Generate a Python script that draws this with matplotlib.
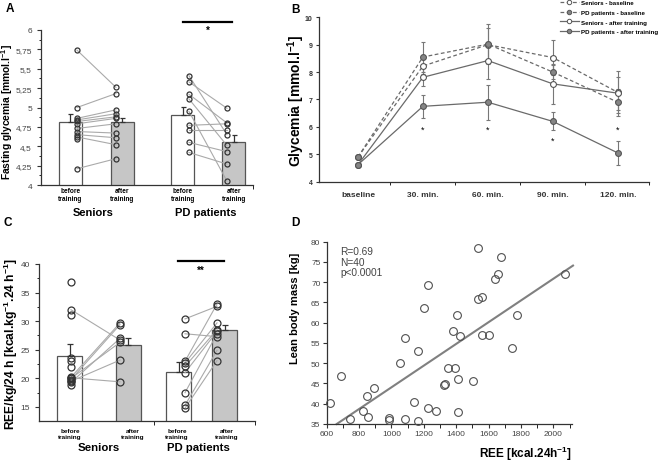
import numpy as np
import matplotlib
matplotlib.use('Agg')
import matplotlib.pyplot as plt
from matplotlib.lines import Line2D

plt.rcParams['font.family'] = ['Liberation Sans', 'DejaVu Sans']
plt.rcParams['mathtext.fontset'] = 'custom'
plt.rcParams['mathtext.rm'] = 'Liberation Sans'
plt.rcParams['mathtext.bf'] = 'Liberation Sans:bold'
plt.rcParams['mathtext.it'] = 'Liberation Sans:italic'

# ---------------------------------------------------------------------------- #
#                                     DATA                                     #
# ---------------------------------------------------------------------------- #
group_names = ['Seniors', 'PD patients']
cond_names = ['before\ntraining', 'after\ntraining']

# ----------------------- A: fasting glycemia [mmol/l] ----------------------- #
glyc_means = [4.81, 4.81, 4.90, 4.55]
glyc_sem = [0.10, 0.05, 0.11, 0.09]
sen_glyc_before = [5.74, 5.00, 4.86, 4.84, 4.82, 4.79, 4.73, 4.69, 4.65, 4.62, 4.21]
sen_glyc_after = [5.26, 5.18, 4.97, 4.92, 4.88, 4.86, 4.79, 4.67, 4.61, 4.52, 4.34]
sen_glyc_single = [4.60]
pd_glyc_before = [5.41, 5.33, 5.17, 5.11, 4.95, 4.77, 4.71, 4.55, 4.42]
pd_glyc_after = [4.65, 4.99, 4.80, 4.51, 4.05, 4.79, 4.71, 4.43, 4.27]
glyc_ticks = [4, 4.25, 4.5, 4.75, 5, 5.25, 5.5, 5.75, 6]
glyc_ticklabels = ['4', '4,25', '4,5', '4,75', '5', '5,25', '5,5', '5,75', '6']

# --------------------------- B: OGTT glycemia ------------------------------- #
ogtt_times = ['baseline', '30. min.', '60. min.', '90. min.', '120. min.']
sen_base = [4.90, 8.22, 9.00, 8.53, 7.26]
sen_base_err = [0, 0.30, 0.60, 0.65, 0.77]
pd_base = [4.90, 8.55, 9.02, 8.00, 6.90]
pd_base_err = [0, 0.56, 0.72, 0.25, 0.50]
sen_after = [4.62, 7.81, 8.42, 7.57, 7.23]
sen_after_err = [0, 0.33, 0.68, 0.73, 0.60]
pd_after = [4.62, 6.75, 6.90, 6.20, 5.05]
pd_after_err = [0, 0.43, 0.64, 0.33, 0.45]
ogtt_star_y = [None, 5.92, 5.92, 5.50, 5.90]
ogtt_labels = ['Seniors - baseline', 'PD patients - baseline',
               'Seniors - after training', 'PD patients - after training']

# ------------------------------ C: REE per kg ------------------------------- #
ree_means = [23.9, 25.8, 21.2, 28.5]
ree_sem = [2.1, 1.3, 1.7, 0.9]
sen_ree_before = [32.0, 20.2, 19.8, 19.3, 20.0, 19.5, 20.1]
sen_ree_after = [26.7, 29.7, 29.4, 27.0, 26.3, 23.2, 19.4]
sen_ree_single = [36.8, 31.0, 23.6, 23.0, 22.0, 18.8]
pd_ree_before = [30.4, 27.8, 23.0, 22.7, 22.1, 21.0, 17.5, 15.3, 14.8]
pd_ree_after = [32.6, 27.3, 33.0, 29.7, 28.5, 28.2, 27.8, 24.9, 23.1]

# ------------------------- D: REE vs lean body mass ------------------------- #
ree_total = [619, 691, 744, 821, 848, 852, 889, 986, 986, 1054,
             1083, 1085, 1162, 1162, 1137, 1203, 1224, 1224, 1275, 1326,
             1328, 1347, 1393, 1413, 1506, 1413, 1378, 1425, 1405, 1533,
             1677, 1657, 1642, 1537, 1560, 1560, 1605, 1778, 1744, 2069]
lean_mass = [40.2, 46.8, 36.2, 38.1, 41.8, 36.8, 43.8, 36.5, 36.0, 50.1,
             56.2, 36.2, 53.0, 35.8, 40.5, 63.6, 69.3, 38.9, 38.3, 44.6,
             44.8, 48.7, 48.7, 46.1, 45.5, 38.0, 57.9, 56.8, 61.8, 78.4,
             76.2, 72.1, 70.8, 65.9, 66.3, 57.0, 57.0, 61.8, 53.8, 72.0]
fit_ree = [662, 2121]
fit_lbm = [35.0, 74.1]
stats_text = 'R=0.69\nN=40\np<0.0001'

# ---------------------------------------------------------------------------- #
#                                    HELPERS                                   #
# ---------------------------------------------------------------------------- #
INK = '#333333'


def paired_bars(ax, bar_x, width, means, sem, pairs, singles, offs, ms, capsize):
    ax.bar(bar_x, means, width, color=['white', '#c6c6c6', 'white', '#c6c6c6'],
           edgecolor='#555555', linewidth=0.9, zorder=1)
    ax.errorbar(bar_x, means, yerr=[np.zeros(len(sem)), sem], fmt='none',
                ecolor=INK, elinewidth=0.9, capsize=capsize, capthick=0.9, zorder=2)
    for k, (before, after) in enumerate(pairs):
        x0 = bar_x[2 * k] + offs[2 * k]
        x1 = bar_x[2 * k + 1] + offs[2 * k + 1]
        for b, a in zip(before, after):
            ax.plot([x0, x1], [b, a], color='#aaaaaa', lw=0.8, zorder=3)
        pts_b = list(before) + list(singles[k])
        ax.plot([x0] * len(pts_b), pts_b, 'o', mfc='none', mec=INK, ms=ms,
                mew=0.9, zorder=4, clip_on=False)
        ax.plot([x1] * len(after), after, 'o', mfc='none', mec=INK, ms=ms,
                mew=0.9, zorder=4, clip_on=False)


def style_axes(ax):
    ax.spines['top'].set_visible(False)
    ax.spines['right'].set_visible(False)
    for s in ['left', 'bottom']:
        ax.spines[s].set_color(INK)
        ax.spines[s].set_linewidth(0.9)
    ax.tick_params(colors=INK, width=0.8)


fig = plt.figure(figsize=(6.61, 4.64), dpi=100)

# ---------------------------------- Panel A --------------------------------- #
axA = fig.add_axes([0.0620, 0.5991, 0.3207, 0.3341])
barA = [29.5, 81.5, 142, 193]
paired_bars(axA, barA, 23, glyc_means, glyc_sem,
            [(sen_glyc_before, sen_glyc_after), (pd_glyc_before, pd_glyc_after)],
            [sen_glyc_single, []], [6.5, -6.5, 6, -7], 3.6, 1.8)
axA.set_xlim(0, 212)
axA.set_ylim(4, 6)
axA.set_yticks(glyc_ticks)
axA.set_yticklabels(glyc_ticklabels)
axA.set_yticks(np.arange(4.125, 6, 0.25), minor=True)
axA.set_xticks([])
axA.set_xticks([212], minor=True)
style_axes(axA)
axA.tick_params(axis='y', labelsize=6, length=3, labelcolor='#444444')
axA.tick_params(axis='y', which='minor', length=1.5)
axA.tick_params(axis='x', which='minor', length=3)
axA.set_ylabel('Fasting glycemia [mmol.l$^{\\mathbf{-1}}$]', fontsize=7.4,
               fontweight='bold')
axA.yaxis.set_label_coords(-0.122, 0.48)
for x, lab in zip(barA, cond_names * 2):
    axA.text(x, -0.061, lab, transform=axA.get_xaxis_transform(), ha='center',
             va='center', fontsize=4.7, fontweight='bold', linespacing=1.15)
for x, g in zip([52.5, 165], group_names):
    axA.text(x, -0.172, g, transform=axA.get_xaxis_transform(), ha='center',
             va='center', fontsize=8, fontweight='bold')
axA.plot([142, 191], [6.107, 6.107], color='black', lw=1.6, clip_on=False)
axA.text(166.5, 6.0, '*', ha='center', va='center', fontsize=7, fontweight='bold')

# ---------------------------------- Panel B --------------------------------- #
axB = fig.add_axes([0.4826, 0.6063, 0.4992, 0.3543])
tx = np.arange(len(ogtt_times))
series = [
    (sen_base, sen_base_err, (0, (3, 2)), 'white'),
    (pd_base, pd_base_err, (0, (3, 2)), '#858585'),
    (sen_after, sen_after_err, '-', 'white'),
    (pd_after, pd_after_err, '-', '#858585'),
]
handles = []
for (vals, err, ls, fc), lab in zip(series, ogtt_labels):
    axB.errorbar(tx, vals, yerr=err, fmt='none', ecolor='#777777',
                 elinewidth=0.8, capsize=1.6, capthick=0.8, zorder=2)
    axB.plot(tx, vals, linestyle=ls, color='#6a6a6a', lw=0.9, marker='o',
             mfc=fc, mec='#555555', ms=4.2, mew=0.8, zorder=3)
    handles.append(Line2D([], [], linestyle=ls, color='#6a6a6a', lw=0.9,
                          marker='o', mfc=fc, mec='#555555', ms=3.2, mew=0.7))
for x, y in zip(tx, ogtt_star_y):
    if y is not None:
        axB.text(x, y, '*', ha='center', va='center', fontsize=6.5)
axB.set_xlim(-0.6, 4.48)
axB.set_ylim(4, 10)
axB.set_xticks(tx)
axB.set_xticklabels(ogtt_times)
axB.set_xticks([0.5, 1.5, 2.5, 3.5, 4.48], minor=True)
style_axes(axB)
axB.tick_params(axis='x', which='major', length=0, labelsize=6, pad=7)
axB.tick_params(axis='x', which='minor', length=2.5)
axB.tick_params(axis='y', length=2.5, labelsize=5, pad=2)
for lab in axB.get_xticklabels() + axB.get_yticklabels():
    lab.set_fontweight('bold')
axB.set_ylabel('Glycemia [mmol.l$^{\\mathbf{-1}}$]', fontsize=10,
               fontweight='bold')
axB.yaxis.set_label_coords(-0.036, 0.5)
fig.legend(handles, ogtt_labels, loc='upper left',
           bbox_to_anchor=(559 / 661, 1.0), frameon=False,
           prop={'weight': 'bold', 'size': 4.4}, handlelength=3.2,
           handletextpad=0.3, labelspacing=0.75, borderpad=0.1,
           borderaxespad=0)

# ---------------------------------- Panel C --------------------------------- #
axC = fig.add_axes([0.0590, 0.0899, 0.3268, 0.3390])
barC = [30.5, 89, 139.5, 185.5]
paired_bars(axC, barC, 25, ree_means, ree_sem,
            [(sen_ree_before, sen_ree_after), (pd_ree_before, pd_ree_after)],
            [sen_ree_single, []], [1.5, -8, 6.5, -7.5], 5.0, 2.4)
axC.set_xlim(0, 216)
axC.set_ylim(12.5, 40)
axC.set_yticks(np.arange(15, 41, 5))
axC.set_yticks(np.arange(17.5, 40, 5), minor=True)
axC.set_xticks([])
axC.set_xticks([115, 216], minor=True)
style_axes(axC)
axC.tick_params(axis='y', labelsize=6, length=3, labelcolor='#444444')
axC.tick_params(axis='y', which='minor', length=1.5)
axC.tick_params(axis='x', which='minor', length=3)
axC.set_ylabel('REE/kg/24 h [kcal.kg$^{\\mathbf{-1}}$.24 h$^{\\mathbf{-1}}$]',
               fontsize=8.7, fontweight='bold')
axC.yaxis.set_label_coords(-0.088, 0.5)
for x, lab in zip([31, 94, 138, 188], cond_names * 2):
    axC.text(x, -0.077, lab, transform=axC.get_xaxis_transform(), ha='center',
             va='center', fontsize=4.6, fontweight='bold', linespacing=1.12)
for x, g in zip([59.7, 159], group_names):
    axC.text(x, -0.162, g, transform=axC.get_xaxis_transform(), ha='center',
             va='center', fontsize=8.2, fontweight='bold')
axC.plot([139, 185], [40.47, 40.47], color='black', lw=1.6, clip_on=False)
axC.text(162, 39.0, '**', ha='center', va='center', fontsize=7, fontweight='bold')

# ---------------------------------- Panel D --------------------------------- #
axD = fig.add_axes([0.4943, 0.0841, 0.3711, 0.3929])
axD.plot(ree_total, lean_mass, 'o', mfc='none', mec='#505050', ms=5.6,
         mew=0.8, clip_on=False, zorder=3)
axD.plot(fit_ree, fit_lbm, color='#808080', lw=1.5, clip_on=False, zorder=2)
axD.set_xlim(600, 2115)
axD.set_ylim(35, 80)
axD.set_xticks(np.arange(600, 2001, 200))
axD.set_xticks(np.arange(700, 2101, 100), minor=True)
axD.set_yticks(np.arange(35, 81, 5))
style_axes(axD)
axD.tick_params(labelsize=6, length=3, labelcolor='#444444', pad=1.5)
axD.tick_params(axis='x', which='minor', length=3)
axD.set_ylabel('Lean body mass [kg]', fontsize=8, fontweight='bold')
axD.yaxis.set_label_coords(-0.11, 0.64)
axD.set_xlabel('REE [kcal.24h$^{\\mathbf{-1}}$]', fontsize=8.5,
               fontweight='bold', loc='right', labelpad=5)
axD.text(0.055, 0.975, stats_text, transform=axD.transAxes, ha='left',
         va='top', fontsize=7.3, color='#444444', linespacing=1.05)

# ------------------------------- Panel letters ------------------------------ #
for lab, x, y in [('A', 6, 9), ('B', 291, 10), ('C', 4, 223), ('D', 291, 223)]:
    fig.text(x / 661, 1 - y / 464, lab, fontsize=8.5, fontweight='bold',
             ha='left', va='center')

fig.savefig('out.png', dpi=100)
